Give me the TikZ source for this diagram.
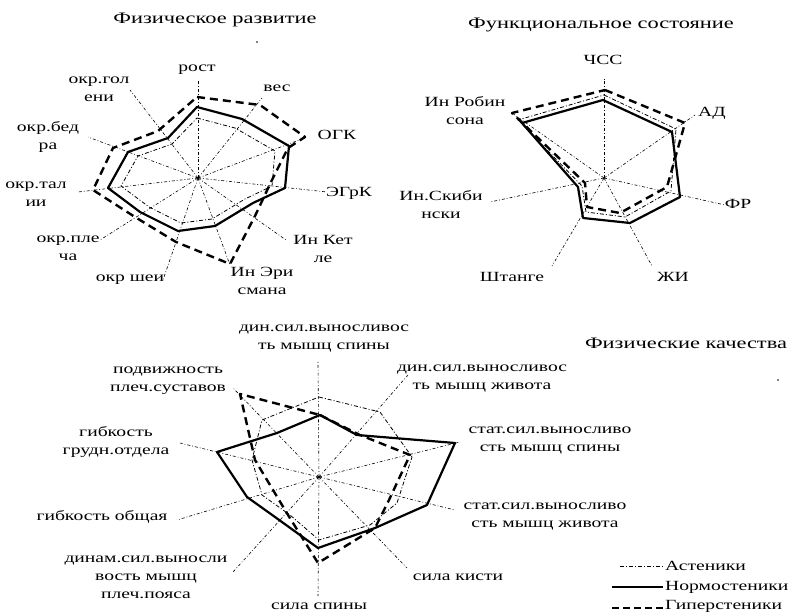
\documentclass[tikz,border=0pt]{standalone}
\usepackage{fontspec}
\setmainfont{Liberation Serif}[FakeStretch=1.4]
\begin{document}
\begin{tikzpicture}[x=1pt,y=-1pt,
 lbl/.style={font=\fontsize{14}{18}\selectfont, inner sep=0pt, align=center},
 ttl/.style={font=\fontsize{16}{18}\selectfont, inner sep=0pt},
 spoke/.style={line width=0.6pt, dash pattern=on 3pt off 2pt on 0.8pt off 2pt},
 asth/.style={line width=0.8pt, dash pattern=on 4pt off 2pt on 1pt off 2pt, line join=round},
 norm/.style={line width=2.2pt, line join=round},
 hyper/.style={line width=2.4pt, dash pattern=on 8pt off 5pt, line join=round}]
\useasboundingbox (0,0) rectangle (796,615);

% ---------- Chart 1: Физическое развитие ----------
\node[ttl] (t1) at (215,20) {Физическое развитие};
\fill (257,42) circle (0.9);
\coordinate (c1) at (198,178);
\foreach \p in {(198,80),(262,98),(302,139),(327,192),(286,240),(230,265),(163,280),(100,240),(78,192),(88,137),(130,90)}
  \draw[spoke] (c1) -- \p;
\draw[asth] (197,118) -- (235,128) -- (275,151) -- (272,186) -- (245,199) -- (212,219) -- (181,223) -- (149,207) -- (121,186) -- (138,156) -- (172,144) -- cycle;
\draw[norm] (197,107) -- (242,119) -- (289,146) -- (285,188) -- (253,203) -- (215,226) -- (178,231) -- (140,212) -- (108,188) -- (128,152) -- (168,138) -- cycle;
\draw[hyper] (197,97) -- (260,105) -- (305,137) -- (288,148) -- (271,182) -- (255,216) -- (230,264) -- (176,242) -- (135,217) -- (93,190) -- (113,148) -- (158,131) -- cycle;
\node[lbl] (l11) at (197,70) {рост};
\node[lbl] (l12) at (277,88) {вес};
\node[lbl] (l13) at (337,135) {ОГК};
\node[lbl] (l14) at (349,193) {ЭГрК};
\node[lbl] (l15) at (323,249) {Ин Кет\\ле};
\node[lbl] (l16) at (262,281) {Ин Эри\\смана};
\node[lbl] (l17) at (130,280) {окр шеи};
\node[lbl] (l18) at (68,248) {окр.пле\\ча};
\node[lbl] (l19) at (36,194) {окр.тал\\ии};
\node[lbl] (l110) at (48,137) {окр.бед\\ра};
\node[lbl] (l111) at (99,89) {окр.гол\\ени};

% ---------- Chart 2: Функциональное состояние ----------
\node[ttl] (t2) at (601,25) {Функциональное состояние};
\coordinate (c2) at (604,178);
\foreach \p in {(604,78),(695,115),(725,205),(652,266),(552,266),(490,202),(512,113)}
  \draw[spoke] (c2) -- \p;
\draw[asth] (604,95) -- (676,129) -- (671,191) -- (625,217) -- (586,212) -- (582,186) -- (518,120) -- cycle;
\draw[norm] (603,100) -- (672,132) -- (680,197) -- (630,223) -- (583,218) -- (578,187) -- (522,123) -- cycle;
\draw[hyper] (605,90) -- (685,123) -- (667,187) -- (620,213) -- (587,207) -- (585,183) -- (512,113) -- cycle;
\node[lbl] (l21) at (603,60) {ЧСС};
\node[lbl] (l22) at (712,113) {АД};
\node[lbl] (l23) at (738,204) {ФР};
\node[lbl] (l24) at (673,277) {ЖИ};
\node[lbl] (l25) at (512,277) {Штанге};
\node[lbl] (l26) at (441,205) {Ин.Скиби\\нски};
\node[lbl] (l27) at (465,111) {Ин Робин\\сона};

% ---------- Chart 3: Физические качества ----------
\node[ttl] (t3) at (686,343) {Физические качества};
\fill (778,380) circle (0.9);
\coordinate (c3) at (319,477);
\foreach \p in {(318,362),(408,375),(460,442),(455,510),(407,568),(318,596),(233,572),(177,520),(180,443),(233,388)}
  \draw[spoke] (c3) -- \p;
\draw[asth] (319,397) -- (380,412) -- (412,457) -- (397,503) -- (370,525) -- (319,540) -- (290,515) -- (262,495) -- (252,460) -- (262,420) -- cycle;
\draw[norm] (320,415) -- (357,435) -- (455,443) -- (427,505) -- (375,528) -- (318,548) -- (275,517) -- (247,497) -- (217,452) -- (277,433) -- cycle;
\draw[hyper] (320,415) -- (360,435) -- (410,455) -- (389,500) -- (375,528) -- (318,563) -- (288,515) -- (270,485) -- (255,460) -- (240,394) -- cycle;
\node[lbl] (l31) at (324,339) {дин.сил.выносливос\\ть мышц спины};
\node[lbl] (l32) at (482,379) {дин.сил.выносливос\\ть мышц живота};
\node[lbl] (l33) at (550,441) {стат.сил.выносливо\\сть мышц спины};
\node[lbl] (l34) at (545,517) {стат.сил.выносливо\\сть мышц живота};
\node[lbl] (l35) at (458,577) {сила кисти};
\node[lbl] (l36) at (319,606) {сила спины};
\node[lbl] (l37) at (146,577) {динам.сил.выносли\\вость мышц\\плеч.пояса};
\node[lbl] (l38) at (102,517) {гибкость общая};
\node[lbl] (l39) at (116,442) {гибкость\\грудн.отдела};
\node[lbl] (l310) at (168,381) {подвижность\\плеч.суставов};

% ---------- Legend ----------
\coordinate (la1) at (620,566); \coordinate (lb1) at (663,566);
\coordinate (la2) at (612,587); \coordinate (lb2) at (663,587);
\coordinate (la3) at (612,608); \coordinate (lb3) at (663,608);
\draw[asth] (la1) -- (lb1);
\draw[line width=2pt] (la2) -- (lb2);
\draw[line width=2.2pt, dash pattern=on 7pt off 4pt] (la3) -- (lb3);
\node[lbl, anchor=west] (g1) at (665,566) {Астеники};
\node[lbl, anchor=west] (g2) at (665,587) {Нормостеники};
\node[lbl, anchor=west] (g3) at (665,606) {Гиперстеники};
\end{tikzpicture}
\end{document}
